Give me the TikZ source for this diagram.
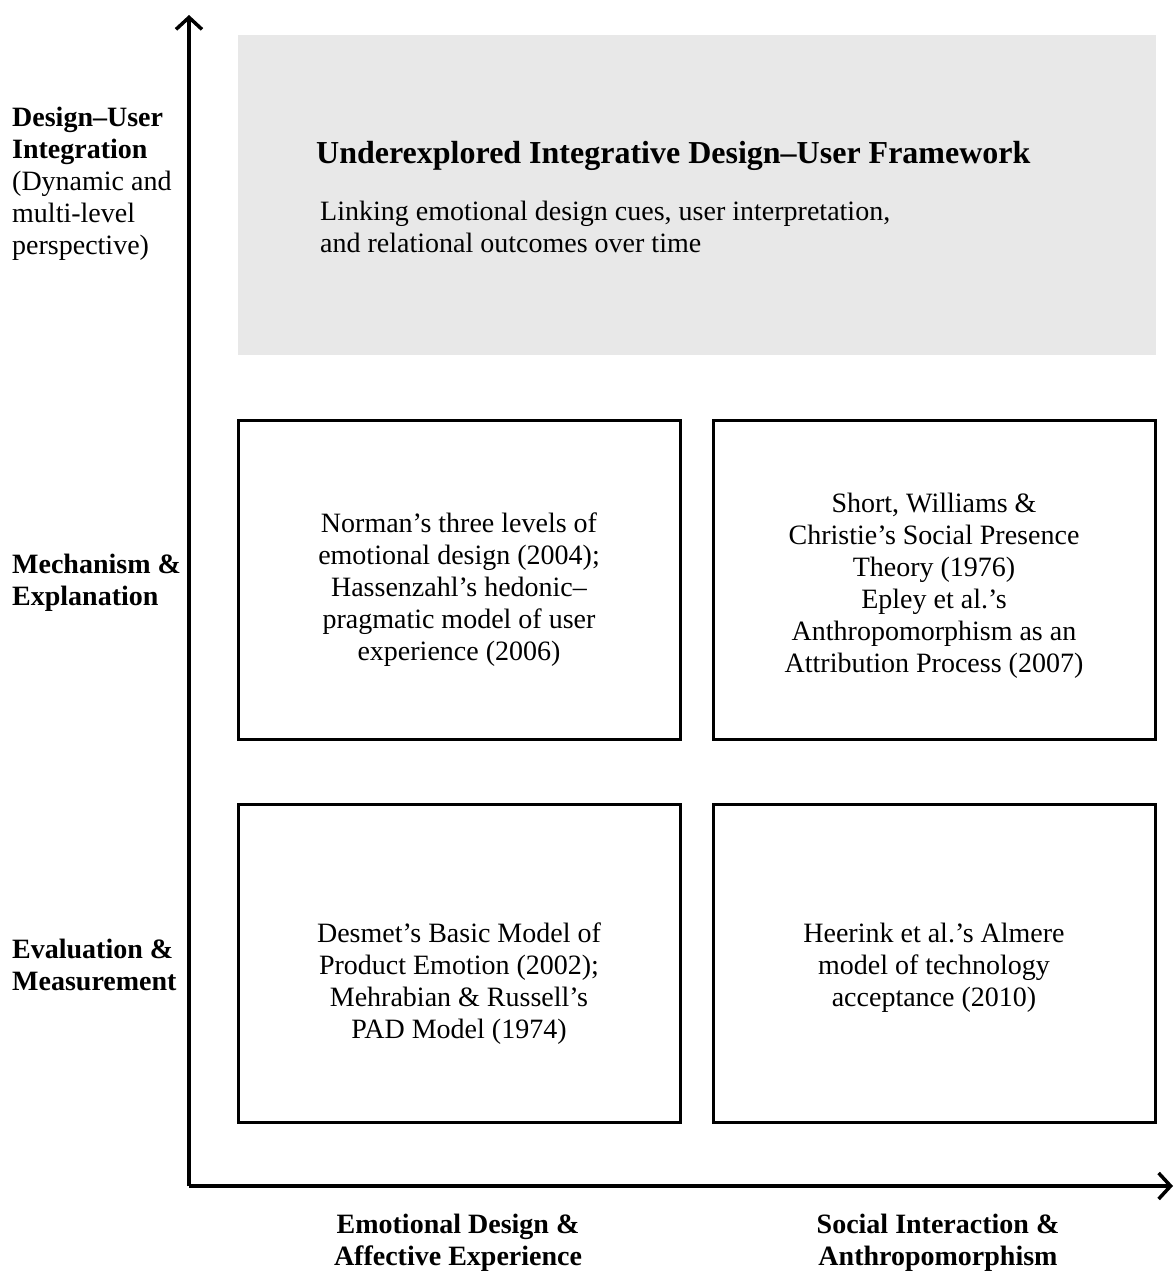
\documentclass[tikz,border=0pt]{standalone}
\usepackage{fontspec}
\setmainfont{Liberation Serif}
\usetikzlibrary{arrows.meta}
\definecolor{panelgray}{HTML}{E8E8E8}
\tikzset{
  axis/.style={line width=3.5pt, -{Straight Barb[length=12pt,width=26pt,line width=3.5pt]}},
  cellbox/.style={draw=black, line width=3pt},
  body/.style={font=\fontsize{28}{32}\selectfont, align=center, inner sep=0pt},
  lefttxt/.style={font=\fontsize{28}{32}\selectfont, align=left, inner sep=0pt, anchor=west},
  boldtxt/.style={font=\fontsize{28}{32}\selectfont\bfseries},
}
\begin{document}
\begin{tikzpicture}[x=1pt, y=-1pt]
\useasboundingbox (0,0) rectangle (1175,1271);

% top framework panel
\fill[panelgray] (238,35) rectangle (1156,355);
\node[inner sep=0pt, anchor=west, font=\fontsize{32}{36}\selectfont\bfseries] (ftitle) at (316,156)
  {Underexplored Integrative Design–User Framework};
\node[lefttxt] (fsub) at (320,227)
  {Linking emotional design cues, user interpretation,\\and relational outcomes over time};

% quadrant boxes
\draw[cellbox] (238,420) rectangle (680,739);
\draw[cellbox] (713,420) rectangle (1155,739);
\draw[cellbox] (238,804) rectangle (680,1122);
\draw[cellbox] (713,804) rectangle (1155,1122);

\node[body] (q1) at (459,590) {Norman’s three levels of\\emotional design (2004);\\Hassenzahl’s hedonic–\\pragmatic model of user\\experience (2006)};
\node[body] (q2) at (934,586) {Short, Williams \&\\Christie’s Social Presence\\Theory (1976)\\Epley et al.’s\\Anthropomorphism as an\\Attribution Process (2007)};
\node[body] (q3) at (459,984) {Desmet’s Basic Model of\\Product Emotion (2002);\\Mehrabian \& Russell’s\\PAD Model (1974)};
\node[body] (q4) at (934,968) {Heerink et al.’s Almere\\model of technology\\acceptance (2010)};

% axes
\coordinate (origin) at (189,1186);
\coordinate (ytip) at (189,15);
\coordinate (xtip) at (1173,1186);
\draw[axis] (origin) -- (ytip);
\draw[axis] (origin) -- (xtip);

% vertical axis labels
\node[lefttxt] (ylab3) at (12,184) {\textbf{Design–User}\\\textbf{Integration}\\(Dynamic and\\multi-level\\perspective)};
\node[lefttxt, boldtxt] (ylab2) at (12,583) {Mechanism \&\\Explanation};
\node[lefttxt, boldtxt] (ylab1) at (12,965) {Evaluation \&\\Measurement};

% horizontal axis labels
\node[body, boldtxt] (xlab1) at (458,1243) {Emotional Design \&\\Affective Experience};
\node[body, boldtxt] (xlab2) at (938,1243) {Social Interaction \&\\Anthropomorphism};
\end{tikzpicture}
\end{document}
